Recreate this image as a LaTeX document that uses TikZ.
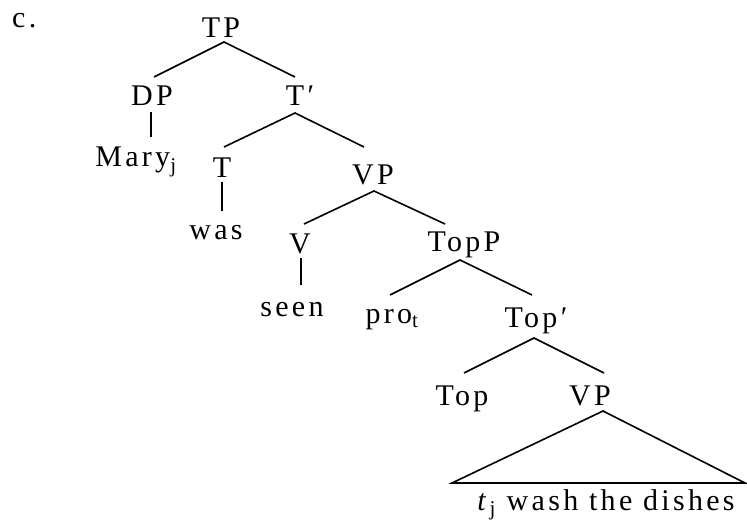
\documentclass[tikz,border=0pt]{standalone}
\usepackage{fontspec}
\setmainfont[LetterSpace=11]{Liberation Serif}
\begin{document}
\begin{tikzpicture}[x=1pt,y=-1pt,
  lab/.style={anchor=base,inner sep=0pt,font=\fontsize{30}{32}\selectfont},
  br/.style={line width=1.6pt}]
\useasboundingbox (0,0) rectangle (747,526);
\node[lab,anchor=base west] (c) at (12,28) {c.};
\node[lab] (TP) at (221,38) {TP};
\node[lab] (DP) at (152,106) {DP};
\node[lab] (Tbar) at (300,106) {T′};
\node[lab] (Mary) at (136,167) {Mary\textsubscript{j}};
\node[lab] (T) at (222,178) {T};
\node[lab] (VP1) at (373,185) {VP};
\node[lab] (was) at (216,240) {was};
\node[lab] (V) at (300,254) {V};
\node[lab] (TopP) at (464,252) {TopP};
\node[lab] (seen) at (292,317) {seen};
\node[lab] (pro) at (392,324) {pro\textsubscript{t}};
\node[lab] (Topbar) at (536,328) {Top′};
\node[lab] (Top) at (462,406) {Top};
\node[lab] (VP2) at (590,406) {VP};
\node[lab] (str) at (606,510) {\textit{t}\textsubscript{j} wash the dishes};
% branch points
\coordinate (TPs) at (224,42);
\coordinate (DPn) at (154,77);
\coordinate (Tbarn) at (295,77);
\coordinate (DPs) at (151,112);
\coordinate (Maryn) at (151,137);
\coordinate (Tbars) at (295,113);
\coordinate (Tn) at (224,147);
\coordinate (VPan) at (364,147);
\coordinate (Ts) at (222,182);
\coordinate (wasn) at (222,211);
\coordinate (VPas) at (374,191);
\coordinate (Vn) at (304,224);
\coordinate (TopPn) at (445,224);
\coordinate (Vs) at (301,258);
\coordinate (seenn) at (301,285);
\coordinate (TopPs) at (460,260);
\coordinate (pron) at (390,295);
\coordinate (Topbarn) at (532,295);
\coordinate (Topbars) at (534,338);
\coordinate (Topn) at (464,373);
\coordinate (VPbn) at (604,373);
\coordinate (VPbs) at (603,411);
\coordinate (triL) at (452,483);
\coordinate (triR) at (745,483);
\draw[br] (DPn) -- (TPs) -- (Tbarn);
\draw[br] (DPs) -- (Maryn);
\draw[br] (Tn) -- (Tbars) -- (VPan);
\draw[br] (Ts) -- (wasn);
\draw[br] (Vn) -- (VPas) -- (TopPn);
\draw[br] (Vs) -- (seenn);
\draw[br] (pron) -- (TopPs) -- (Topbarn);
\draw[br] (Topn) -- (Topbars) -- (VPbn);
\draw[br,line join=miter] (VPbs) -- (triL) -- (triR) -- cycle;
\end{tikzpicture}
\end{document}
